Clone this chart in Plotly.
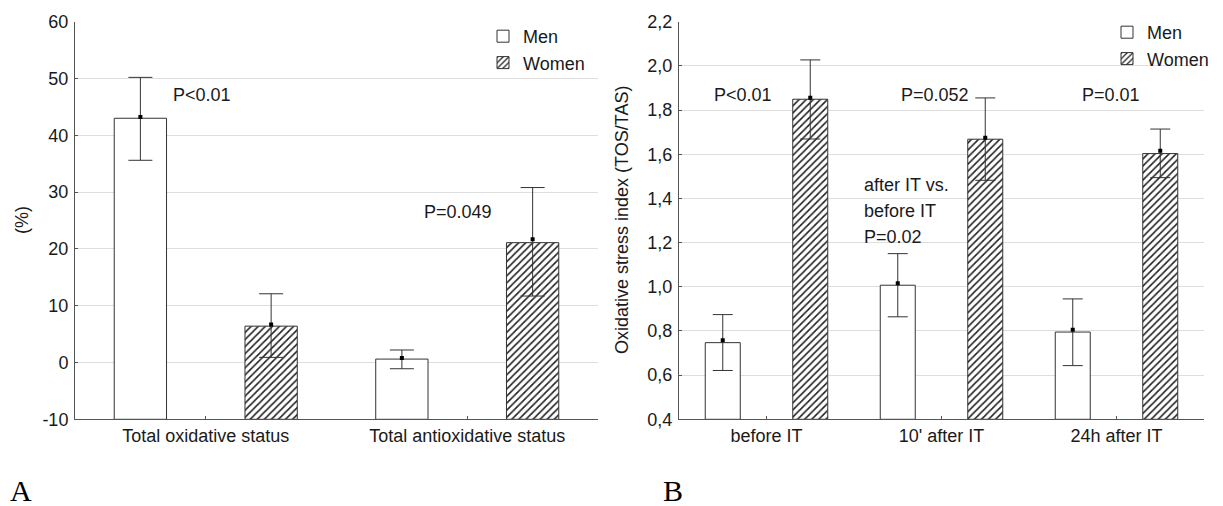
import plotly.graph_objects as go

# ---------------- Panel A data ----------------
cats_a = ["Total oxidative status", "Total antioxidative status"]
men_bar_a = [43.0, 0.6]
men_mean_a = [43.2, 0.8]
men_hi_a = [50.2, 2.2]
men_lo_a = [35.6, -1.1]
women_bar_a = [6.4, 21.1]
women_mean_a = [6.7, 21.7]
women_hi_a = [12.1, 30.8]
women_lo_a = [0.9, 11.7]
yticks_a = [-10, 0, 10, 20, 30, 40, 50, 60]
yticklabels_a = ["-10", "0", "10", "20", "30", "40", "50", "60"]

# ---------------- Panel B data ----------------
cats_b = ["before IT", "10' after IT", "24h after IT"]
men_bar_b = [0.747, 1.007, 0.795]
men_mean_b = [0.758, 1.016, 0.805]
men_hi_b = [0.874, 1.150, 0.945]
men_lo_b = [0.621, 0.864, 0.643]
women_bar_b = [1.849, 1.668, 1.603]
women_mean_b = [1.856, 1.675, 1.616]
women_hi_b = [2.027, 1.855, 1.714]
women_lo_b = [1.669, 1.482, 1.494]
yticks_b = [0.4, 0.6, 0.8, 1.0, 1.2, 1.4, 1.6, 1.8, 2.0, 2.2]
yticklabels_b = ["0,4", "0,6", "0,8", "1,0", "1,2", "1,4", "1,6", "1,8", "2,0", "2,2"]

# page body has a default 8px margin; the figure is sized to fit the window
OFF = 8
W, H = 1223 - OFF, 506 - OFF
FONT = "Arial, 'Liberation Sans', sans-serif"
SERIF = "'Times New Roman', 'Liberation Serif', serif"
TXT = "#1a1a1a"
LINE = "#333333"
base_a = yticks_a[0]
base_b = yticks_b[0]


def px_x(p):
    return (p - OFF) / W


def px_y(p):
    return 1 - (p - OFF) / H


fig = go.Figure()


def add_panel(cats, men_bar, men_mean, men_hi, men_lo, women_bar, women_mean, women_hi, women_lo,
              base, xa, ya, legend, capw):
    fig.add_trace(go.Bar(
        x=cats, y=[v - base for v in men_bar], base=base, name="Men",
        marker=dict(color="white", line=dict(color=LINE, width=1)),
        xaxis=xa, yaxis=ya, legend=legend, offsetgroup="m"))
    fig.add_trace(go.Bar(
        x=cats, y=[v - base for v in women_bar], base=base, name="Women",
        marker=dict(color="white", line=dict(color=LINE, width=1),
                    pattern=dict(shape="/", fgcolor="#222222", bgcolor="white", size=5, solidity=0.32)),
        xaxis=xa, yaxis=ya, legend=legend, offsetgroup="w"))
    for mean, hi, lo, grp in [(men_mean, men_hi, men_lo, "m"), (women_mean, women_hi, women_lo, "w")]:
        fig.add_trace(go.Scatter(
            x=cats, y=mean, mode="markers", showlegend=False, offsetgroup=grp,
            marker=dict(symbol="square", size=4, color="black"),
            error_y=dict(type="data", symmetric=False,
                         array=[h - m for h, m in zip(hi, mean)],
                         arrayminus=[m - l for m, l in zip(mean, lo)],
                         color=LINE, thickness=1, width=capw),
            xaxis=xa, yaxis=ya))


add_panel(cats_a, men_bar_a, men_mean_a, men_hi_a, men_lo_a,
          women_bar_a, women_mean_a, women_hi_a, women_lo_a, base_a, "x", "y", "legend", 12)
add_panel(cats_b, men_bar_b, men_mean_b, men_hi_b, men_lo_b,
          women_bar_b, women_mean_b, women_hi_b, women_lo_b, base_b, "x2", "y2", "legend2", 10)

ytop, ybot = px_y(21.7), px_y(419.3)

xcommon = dict(type="category", showline=True, linecolor="#555555", linewidth=1,
               ticks="inside", ticklen=3, tickcolor="#555555", showgrid=False, automargin=False,
               tickfont=dict(family=FONT, size=18, color=TXT), zeroline=False)
ycommon = dict(showline=True, linecolor="#555555", linewidth=1, ticks="inside", ticklen=3,
               tickcolor="#555555", showgrid=True, gridcolor="#dedede", gridwidth=1,
               zeroline=False, tickfont=dict(family=FONT, size=18, color=TXT),
               ticklabelstandoff=2, automargin=False)

fig.update_layout(
    template="none",
    width=W, height=H, autosize=False,
    margin=dict(l=0, r=0, t=0, b=0, autoexpand=False),
    paper_bgcolor="white", plot_bgcolor="white",
    barmode="group", bargap=0, bargroupgap=0.6,
    scattermode="group", scattergap=0,
    font=dict(family=FONT, size=18, color=TXT),
    xaxis=dict(domain=[px_x(75), px_x(598)], range=[-0.5, 1.5], anchor="y", **xcommon),
    yaxis=dict(domain=[ybot, ytop], range=[yticks_a[0], yticks_a[-1]], anchor="x",
               tickvals=yticks_a, ticktext=yticklabels_a, **ycommon),
    xaxis2=dict(domain=[px_x(679), px_x(1204)], range=[-0.5, 2.5], anchor="y2", **xcommon),
    yaxis2=dict(domain=[ybot, ytop], range=[yticks_b[0], yticks_b[-1]], anchor="x2",
                tickvals=yticks_b, ticktext=yticklabels_b, **ycommon),
    legend=dict(x=px_x(483), y=px_y(18), xanchor="left", yanchor="top",
                bgcolor="rgba(0,0,0,0)", font=dict(family=FONT, size=18, color=TXT),
                tracegroupgap=0, itemwidth=30),
    legend2=dict(x=px_x(1107), y=px_y(14), xanchor="left", yanchor="top",
                 bgcolor="rgba(0,0,0,0)", font=dict(family=FONT, size=18, color=TXT),
                 tracegroupgap=0, itemwidth=30),
    showlegend=True,
)

ann = []
# y-axis titles
ann.append(dict(text="(%)", x=px_x(22), y=px_y(220), xref="paper", yref="paper",
                xanchor="center", yanchor="middle",
                textangle=-90, showarrow=False, font=dict(size=18)))
ann.append(dict(text="Oxidative stress index (TOS/TAS)", x=px_x(622), y=px_y(220),
                xref="paper", yref="paper", xanchor="center", yanchor="middle",
                textangle=-90, showarrow=False, font=dict(size=18)))
# panel letters
ann.append(dict(text="A", x=px_x(9), y=px_y(490), xref="paper", yref="paper",
                xanchor="left", yanchor="middle", showarrow=False, borderpad=0,
                font=dict(family=SERIF, size=30, color="black")))
ann.append(dict(text="B", x=px_x(673), y=px_y(490), xref="paper", yref="paper",
                xanchor="center", yanchor="middle", showarrow=False,
                font=dict(family=SERIF, size=30, color="black")))
# p-values panel A
ann.append(dict(text="P<0.01", x=-0.015, y=47.1, xref="x", yref="y", showarrow=False))
ann.append(dict(text="P=0.049", x=0.965, y=26.5, xref="x", yref="y", showarrow=False))
# p-values panel B
ann.append(dict(text="P<0.01", x=-0.134, y=1.868, xref="x2", yref="y2", showarrow=False))
ann.append(dict(text="P=0.052", x=0.963, y=1.868, xref="x2", yref="y2", showarrow=False))
ann.append(dict(text="P=0.01", x=1.966, y=1.868, xref="x2", yref="y2", showarrow=False))
for txt, yv in [("after IT vs.", 1.461), ("before IT", 1.343), ("P=0.02", 1.226)]:
    ann.append(dict(text=txt, x=0.543, y=yv, xref="x2", yref="y2", xanchor="left",
                    showarrow=False))
fig.update_layout(annotations=ann)

fig.write_html("out.html")
